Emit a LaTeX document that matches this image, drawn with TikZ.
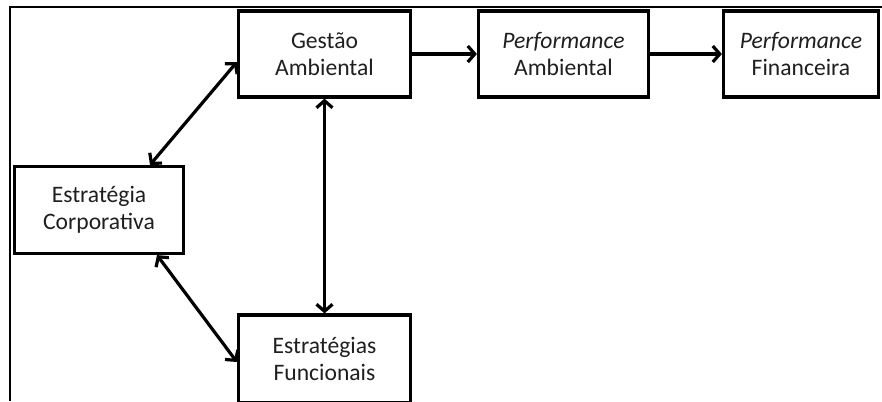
\documentclass[tikz,border=0pt]{standalone}
\usepackage{fontspec}
\setmainfont{Carlito}
\usetikzlibrary{arrows.meta}
\begin{document}
\begin{tikzpicture}[x=1pt,y=-1pt,
  box/.style={draw=black,line width=3.2pt,fill=white,align=center,inner sep=0pt,
    text=black!88,font=\fontsize{23.6}{27}\selectfont},
  link/.style={line width=3.2pt,{Straight Barb[length=7pt,width=16pt,line width=3.2pt]}-{Straight Barb[length=7pt,width=16pt,line width=3.2pt]}},
  oneway/.style={line width=3.2pt,-{Straight Barb[length=7pt,width=16pt,line width=3.2pt]}},
  frame/.style={line width=2pt,draw=black}]
\useasboundingbox (0,0) rectangle (882,401);
\clip (0,0) rectangle (882,401);
\fill[white] (0,0) rectangle (882,401);
\draw[frame] (9.5,401) -- (9.5,7) -- (882,7);
\node[box,minimum width=172pt,minimum height=86pt] (ga) at (324.5,54) {Gestão\\Ambiental};
\node[box,minimum width=170pt,minimum height=86pt] (pa) at (563.5,54) {\textit{Performance}\\Ambiental};
\node[box,minimum width=155pt,minimum height=86pt] (pf) at (801,54) {\textit{Performance}\\Financeira};
\node[box,minimum width=169pt,minimum height=87pt] (ec) at (99,210) {Estratégia\\Corporativa};
\node[box,minimum width=172pt,minimum height=88pt] (ef) at (324.5,359) {Estratégias\\Funcionais};
\draw[oneway] (ga.east) -- (pa.west);
\draw[oneway] (pa.east) -- (pf.west);
\draw[link] ([yshift=-8pt]ga.west) -- ([xshift=51pt]ec.north);
\draw[link] (ga.south) -- (ef.north);
\draw[link] ([xshift=58pt]ec.south) -- ([yshift=-3pt]ef.west);
\end{tikzpicture}
\end{document}
